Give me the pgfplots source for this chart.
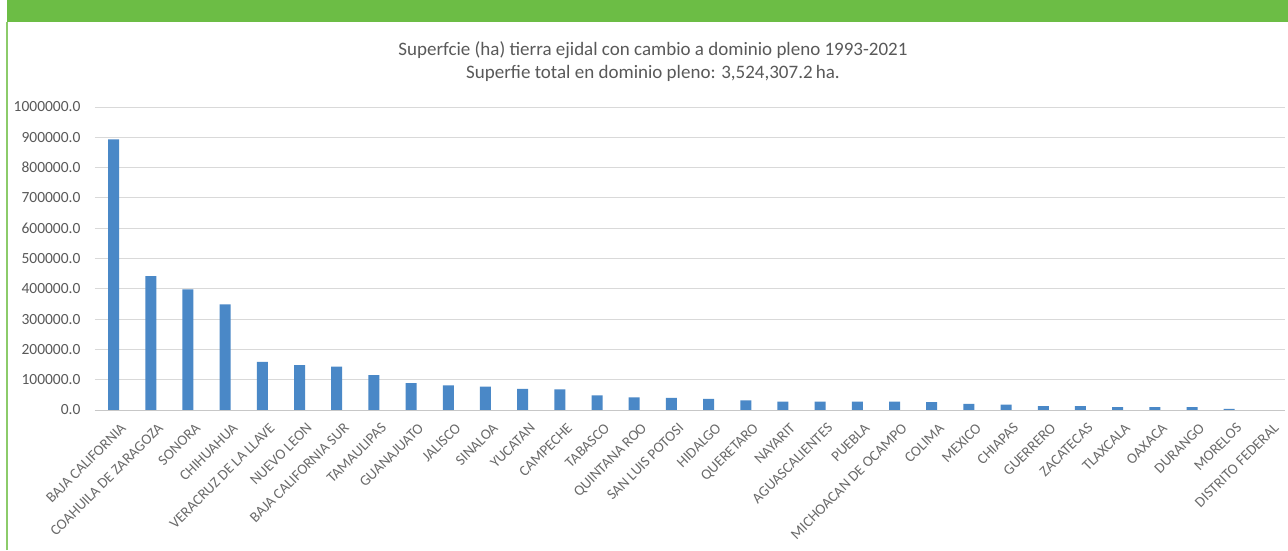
\documentclass[border=0pt]{standalone}
\usepackage{pgfplots}
\pgfplotsset{compat=1.18}
\usepackage{fontspec}
\setmainfont{Carlito}
\definecolor{barblue}{HTML}{4A88C7}
\definecolor{txtgray}{HTML}{595959}
\definecolor{gridgray}{HTML}{D9D9D9}
\definecolor{topgreen}{HTML}{6CBD45}
\definecolor{sidegreen}{HTML}{8CCB6A}
\begin{document}
\begin{tikzpicture}[x=1pt,y=1pt]
\path[use as bounding box, fill=white] (0,0) rectangle (1288,550);
\fill[topgreen] (7,528) rectangle (1288,550);
\draw[sidegreen, line width=1.8pt] (7,0) -- (7,528);
\node[text=txtgray, font=\fontsize{19}{22}\selectfont] at (653,500) {Superfcie (ha) tierra ejidal con cambio a dominio pleno 1993-2021};
\node[text=txtgray, font=\fontsize{19}{22}\selectfont] at (653,477) {Superfie total en dominio pleno: 3,524,307.2\,ha.};
\begin{axis}[
  at={(95pt,140pt)}, anchor=south west,
  scale only axis, width=1190pt, height=303pt,
  xmin=-0.5, xmax=31.5, ymin=0, ymax=1000000,
  ytick={0,100000,...,1000000},
  scaled y ticks=false,
  /pgf/number format/fixed,
  /pgf/number format/fixed zerofill,
  /pgf/number format/precision=1,
  /pgf/number format/1000 sep={},
  /pgf/number format/assume math mode=true,
  yticklabel style={text=txtgray, font=\fontsize{15.5}{17}\selectfont, xshift=-11pt},
  ymajorgrids, grid style={gridgray, line width=0.9pt},
  axis line style={draw=none},
  major tick length=0pt,
  xtick=data,
  xticklabels={BAJA CALIFORNIA, COAHUILA DE ZARAGOZA, SONORA, CHIHUAHUA, VERACRUZ DE LA LLAVE, NUEVO LEON, BAJA CALIFORNIA SUR, TAMAULIPAS, GUANAJUATO, JALISCO, SINALOA, YUCATAN, CAMPECHE, TABASCO, QUINTANA ROO, SAN LUIS POTOSI, HIDALGO, QUERETARO, NAYARIT, AGUASCALIENTES, PUEBLA, MICHOACAN DE OCAMPO, COLIMA, MEXICO, CHIAPAS, GUERRERO, ZACATECAS, TLAXCALA, OAXACA, DURANGO, MORELOS, DISTRITO FEDERAL},
  xticklabel style={rotate=45, anchor=north east, text=txtgray!90, font=\fontsize{14.8}{16}\selectfont, inner sep=1pt, xshift=-3pt, yshift=-12pt},
  clip=false,
]
\addplot[ybar, bar width=11pt, fill=barblue, draw=none] coordinates {
(0,893000) (1,442000) (2,398000) (3,349000) (4,159000) (5,148500) (6,143000) (7,115000)
(8,89000) (9,81000) (10,77000) (11,70000) (12,68000) (13,48500) (14,42000) (15,40000)
(16,36500) (17,31500) (18,28000) (19,28000) (20,28000) (21,28000) (22,26000) (23,20500)
(24,18000) (25,12500) (26,12500) (27,9500) (28,9500) (29,9500) (30,4000) (31,0)
};
\draw[gridgray!80!gray, line width=0.9pt] (axis cs:-0.5,0) -- (axis cs:31.5,0);
\end{axis}
\end{tikzpicture}
\end{document}
